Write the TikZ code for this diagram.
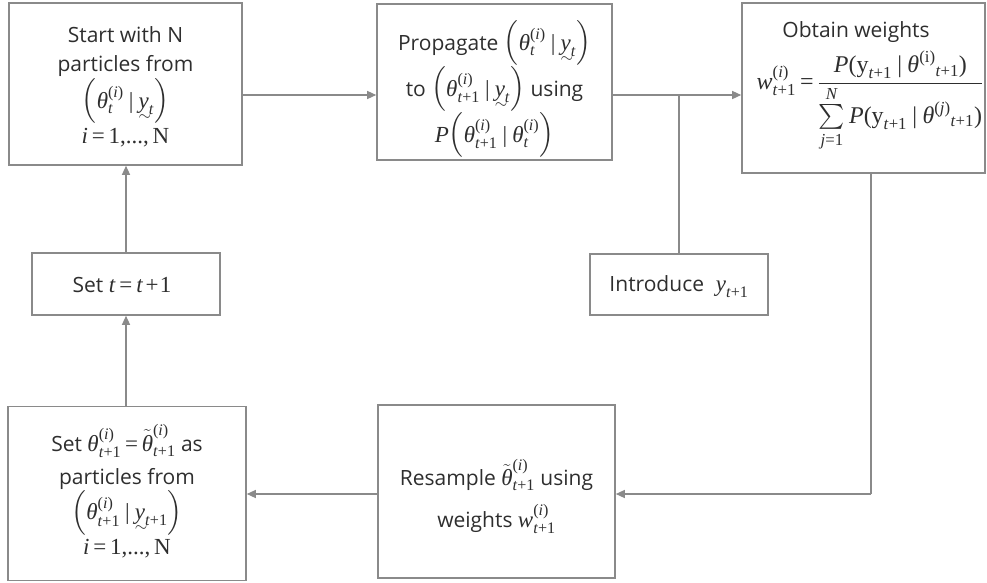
\RequirePackage{fix-cm}
\documentclass[tikz,border=0pt]{standalone}
\usepackage{amsmath}
\usepackage[no-math]{fontspec}
\setmainfont{Open Sans}
\newfontfamily\tmsfont{Liberation Serif}
\usetikzlibrary{arrows.meta}
\definecolor{lc}{HTML}{8A8A8A}
\definecolor{tc}{HTML}{2E2E2E}
% Times-like math pieces
\newcommand{\Tv}[1]{\text{\tmsfont\itshape #1\/}}
\newcommand{\Tr}[1]{\text{\tmsfont #1}}
\newcommand{\sui}{\Tr{(}\Tv{i}\Tr{)}}
\newcommand{\suj}{\Tr{(}\Tv{j}\Tr{)}}
\newcommand{\tpo}{\Tv{t}\Tr{+1}}
\newcommand{\thT}{\Tv{θ}}
\newcommand{\gv}{\mkern4mu\Tr{|}\mkern4mu}
\newcommand{\eqq}{\mkern3mu\Tr{=}\mkern3mu}
\newcommand{\uyy}[1]{\rlap{\raisebox{-0.52em}{\hspace{0.0em}$\scriptstyle\sim$}}\Tv{y}_{#1}}
\newcommand{\lp}{\mathopen{\text{\fontsize{29}{29}\selectfont$\bigl($}}}
\newcommand{\rp}{\mathclose{\text{\fontsize{29}{29}\selectfont$\bigr)$}}}
\newcommand{\M}[1]{{\fontsize{23}{29}\selectfont$#1$}}
\begin{document}
\begin{tikzpicture}[x=1pt,y=-1pt,
  font=\fontsize{21}{29}\selectfont,
  box/.style={draw=lc, line width=1.6pt, inner sep=0pt},
  txt/.style={text=tc, align=center, inner sep=0pt},
  arr/.style={draw=lc, line width=1.3pt, -{Triangle[length=9pt,width=8pt]}},
  ln/.style={draw=lc, line width=1.3pt}]
\useasboundingbox (0,0) rectangle (987,582);

% boxes
\node[box, minimum width=233pt, minimum height=162pt] (start) at (125.5,84) {};
\node[box, minimum width=235pt, minimum height=156pt] (prop) at (494.5,82) {};
\node[box, minimum width=243pt, minimum height=170pt] (obt) at (863.5,88) {};
\node[box, minimum width=178pt, minimum height=61pt] (intro) at (679,284.5) {};
\node[box, minimum width=188pt, minimum height=62pt] (sett) at (126,284) {};
\node[box, minimum width=237pt, minimum height=173pt] (res) at (496.5,491.5) {};
\node[box, minimum width=238pt, minimum height=174pt] (fin) at (127,493.5) {};

% texts
\node[txt] (startT) at ([yshift=-3pt]start.center)
 {Start with N\\ particles from\\[1pt]
  \M{\lp\thT^{\sui}_{\Tv{t}}\gv\uyy{\Tv{t}}\rp}\\[4pt]
  \M{\Tv{i}\eqq\Tr{1,...,\,N}}};

\node[txt, font=\fontsize{21}{41}\selectfont] (propT) at ([yshift=-7pt]prop.center)
 {Propagate \M{\lp\thT^{\sui}_{\Tv{t}}\gv\uyy{\Tv{t}}\rp}\\
  to \M{\lp\thT^{\sui}_{\tpo}\gv\uyy{\Tv{t}}\rp} using\\
  \M{\Tv{P}\lp\thT^{\sui}_{\tpo}\gv\thT^{\sui}_{\Tv{t}}\rp}};

\node[txt, anchor=base] (obtT) at (856,37) {Obtain weights};
\node[txt, anchor=base] (obtF) at (870,89)
 {{\fontsize{24}{29}\selectfont$\Tv{w}^{\sui}_{\tpo}\eqq\dfrac{\Tv{P}\Tr{(y}_{\tpo}\gv\thT^{\Tr{(i)}}{}_{\tpo}\Tr{)}}{\sum\limits_{\Tv{j}\Tr{=1}}^{\Tv{N}}\Tv{P}\Tr{(y}_{\tpo}\gv\thT^{\suj}{}_{\tpo}\Tr{)}}$}};

\node[txt] (introT) at ([yshift=-2pt]intro.center) {Introduce \M{\;\Tv{y}_{\tpo}}};

\node[txt] (settT) at ([xshift=-4pt,yshift=-1pt]sett.center)
 {Set \M{\Tv{t}\eqq\Tv{t}\mkern2mu\Tr{+}\mkern1mu\Tr{1}}};

\node[txt, font=\fontsize{21}{42}\selectfont] (resT) at ([yshift=-5pt]res.center)
 {Resample \M{\tilde{\thT}^{\sui}_{\tpo}} using\\
  weights \M{\Tv{w}^{\sui}_{\tpo}}};

\node[txt, font=\fontsize{21}{33}\selectfont] (finT) at ([yshift=2pt]fin.center)
 {Set \M{\thT^{\sui}_{\tpo}\eqq\tilde{\thT}^{\sui}_{\tpo}} as\\
  particles from\\
  \M{\lp\thT^{\sui}_{\tpo}\gv\uyy{\tpo}\rp}\\[2pt]
  \M{\Tv{i}\eqq\Tr{1,...,\,N}}};

% connectors
\coordinate (j) at (679,95);
\coordinate (k) at (871,494);

\draw[arr] (start.east |- j) -- (prop.west |- j);
\draw[arr] (prop.east |- j) -- (obt.west |- j);
\draw[ln] (intro.north) -- (j);
\draw[ln] (obt.south -| k) -- (k);
\draw[arr] (k) -- (res.east |- k);
\draw[arr] (res.west |- k) -- (fin.east |- k);
\draw[arr] (sett.south |- fin.north) -- (sett.south);
\draw[arr] (sett.north) -- (sett.north |- start.south);
\end{tikzpicture}
\end{document}
